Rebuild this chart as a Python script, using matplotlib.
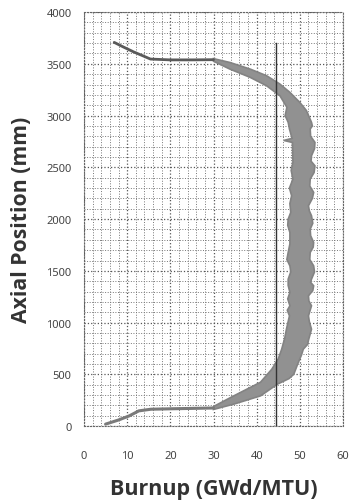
import numpy as np
import matplotlib
matplotlib.use("Agg")
import matplotlib.pyplot as plt
from matplotlib.ticker import MultipleLocator

# burnup band (GWd/MTU) vs axial position (mm), outer and inner edges
outer_x = [30, 34.7, 40.9, 44.8, 47.5, 48.6, 49.5, 50.4, 50.8, 51.8, 52.0, 52.7, 52.2, 52.0,
           52.7, 52.1, 52.0, 53.0, 53.2, 52.5, 52.7, 53.4, 53.2, 52.3, 52.4, 53.1, 53.2,
           52.5, 52.4, 53.0, 52.7, 52.2, 52.0, 52.9, 53.2, 52.3, 52.4, 53.3, 53.5, 52.6,
           52.7, 53.4, 53.5, 52.5, 52.4, 52.9, 52.7, 51.5, 50.0, 47.7, 45.4, 42.3, 38.5,
           33.8, 30]
outer_y = [162, 213, 293, 406, 460, 502, 600, 690, 744, 790, 830, 937, 1010, 1066,
           1163, 1210, 1259, 1310, 1356, 1390, 1420, 1490, 1549, 1610, 1678, 1730, 1775,
           1840, 1903, 1960, 2033, 2080, 2129, 2200, 2258, 2320, 2387, 2450, 2515, 2560,
           2612, 2680, 2741, 2800, 2870, 2900, 2935, 3050, 3127, 3224, 3304, 3385, 3449,
           3513, 3550]
inner_x = [30, 34.7, 40.9, 43.5, 45.0, 45.8, 46.5, 46.9, 47.6, 47.1, 47.7, 47.2, 47.7, 47.3,
           47.3, 47.9, 47.7, 47.0, 47.3, 47.7, 47.7, 47.2, 47.3, 47.9, 47.7, 48.1, 47.6,
           48.4, 48.0, 48.4, 48.3, 46.3, 48.2, 47.6, 47.3, 46.6, 47.0, 45.4, 42.3, 38.5,
           33.8, 30]
inner_y = [190, 293, 425, 550, 650, 744, 850, 937, 1066, 1120, 1163, 1230, 1292, 1360,
           1420, 1490, 1549, 1610, 1678, 1760, 1871, 1940, 2000, 2065, 2150, 2226, 2300,
           2387, 2470, 2548, 2740, 2760, 2780, 2870, 2935, 3000, 3080, 3191, 3288, 3369,
           3449, 3525]

# thin trails at the two fuel ends
top_x = [7.0, 9.0, 11.5, 13.5, 15.4, 20, 25, 30]
top_y = [3707, 3665, 3615, 3580, 3546, 3538, 3538, 3540]
bot_x = [5.0, 8.0, 10.5, 12.7, 15.5, 20, 25, 30]
bot_y = [20, 60, 100, 148, 164, 168, 172, 176]

ref_x = 44.4
ref_y = [0, 3700]

xticks = [0, 10, 20, 30, 40, 50, 60]
yticks = [0, 500, 1000, 1500, 2000, 2500, 3000, 3500, 4000]

fig = plt.figure(figsize=(3.5, 5.02), dpi=100)
ax = fig.add_axes([0.24, 0.149, 0.74, 0.825])

band_x = outer_x + inner_x[::-1]
band_y = outer_y + inner_y[::-1]
ax.fill(band_x, band_y, color="#919191", edgecolor="#838383", lw=1.2, zorder=3)
ax.plot(top_x, top_y, color="#5a5a5a", lw=2.0, solid_capstyle="round", zorder=3)
ax.plot(bot_x, bot_y, color="#7a7a7a", lw=2.2, solid_capstyle="round", zorder=3)
ax.plot([ref_x, ref_x], ref_y, color="#333333", lw=1.0, zorder=4)

ax.set_xlim(0, 60)
ax.set_ylim(0, 4000)
ax.set_xticks(xticks)
ax.set_yticks(yticks)
ax.xaxis.set_minor_locator(MultipleLocator(2))
ax.yaxis.set_minor_locator(MultipleLocator(100))
ax.grid(which="major", linestyle=":", color="#555555", lw=0.9)
ax.grid(which="minor", linestyle=":", color="#777777", lw=0.7)
ax.set_axisbelow(True)
for s in ax.spines.values():
    s.set_linestyle(":")
    s.set_color("#666666")
    s.set_linewidth(0.8)

ax.tick_params(which="both", length=0, colors="#444444", labelsize=8)
ax.tick_params(axis="x", pad=17)
ax.tick_params(axis="y", pad=9)
for lab in ax.get_xticklabels() + ax.get_yticklabels():
    lab.set_family("Noto Sans")

ax.set_xlabel("Burnup (GWd/MTU)", fontsize=15.5, fontweight="bold", color="#333333",
              family=["Open Sans", "DejaVu Sans"], labelpad=12.5)
ax.set_ylabel("Axial Position (mm)", fontsize=15.3, fontweight="bold", color="#333333",
              family=["Open Sans", "DejaVu Sans"], labelpad=10)

fig.savefig("out.png", dpi=100)
